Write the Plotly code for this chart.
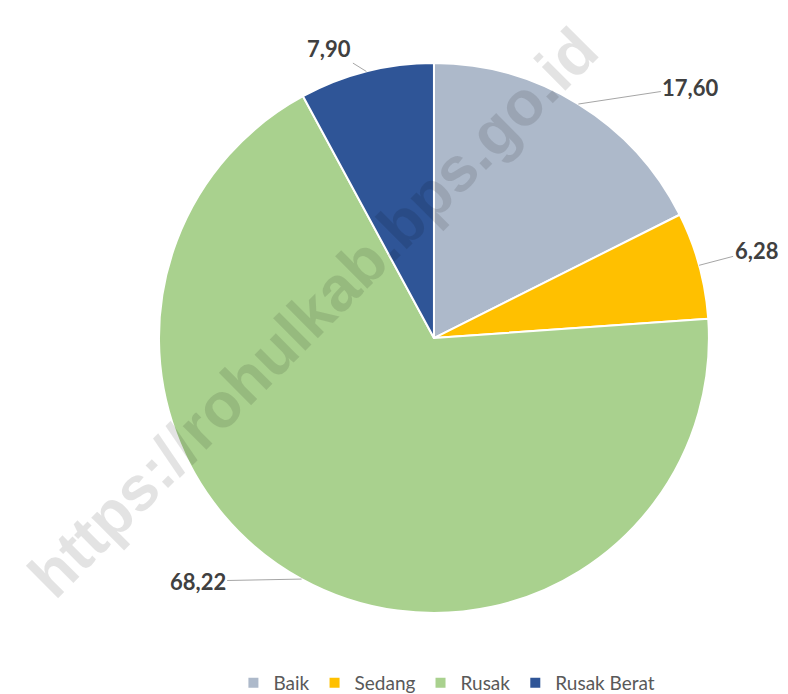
import math
import plotly.graph_objects as go

# ---- data ----
categories = ["Baik", "Sedang", "Rusak", "Rusak Berat"]
values = [17.60, 6.28, 68.22, 7.90]
value_labels = ["17,60", "6,28", "68,22", "7,90"]
colors = ["#ADB9CA", "#FFC000", "#A9D18E", "#2F5597"]

# ---- layout/style ----
W, H = 788, 694
dom_x = [0.2018 - 0.0102, 0.8997 - 0.0102]
dom_y = [0.118 + 0.0101, 0.9107 + 0.0101]
# label text offsets (pixels) from the slice edge anchor
label_offsets = [(112, -17), (57, -15), (-104, 2), (-37, -23)]

fig = go.Figure()
fig.add_trace(go.Pie(
    labels=categories,
    values=values,
    sort=False,
    direction="clockwise",
    rotation=0,
    marker=dict(colors=colors, line=dict(color="white", width=2)),
    textinfo="none",
    hoverinfo="label+value",
    domain=dict(x=dom_x, y=dom_y),
))

# geometry of pie in pixels (computed from domain)
px_w = (dom_x[1] - dom_x[0]) * W
px_h = (dom_y[1] - dom_y[0]) * H
r = min(px_w, px_h) / 2
cx = (dom_x[0] + dom_x[1]) / 2 * W
cy = (dom_y[0] + dom_y[1]) / 2 * H  # from bottom

total = sum(values)
cum = 0
annotations = []
for v, lab, (dx, dy) in zip(values, value_labels, label_offsets):
    mid = (cum + v / 2) / total * 2 * math.pi
    cum += v
    ex = cx + r * math.sin(mid)
    ey = cy + r * math.cos(mid)
    annotations.append(dict(
        x=ex / W, y=ey / H, xref="paper", yref="paper",
        text="<b>" + lab + "</b>", showarrow=True, arrowhead=0, arrowwidth=1,
        arrowcolor="#A6A6A6", ax=dx, ay=dy, axref="pixel", ayref="pixel",
        font=dict(family="Lato", size=22, color="#404040"),
        standoff=0,
    ))

# watermark
annotations.append(dict(
    x=0.387, y=0.562, xref="paper", yref="paper",
    text="<b>https://rohulkab.bps.go.id</b>", showarrow=False,
    textangle=-45,
    font=dict(family="Liberation Sans", size=63, color="rgba(0,0,0,0.11)"),
))

fig.update_layout(
    width=W, height=H,
    margin=dict(l=0, r=0, t=0, b=0),
    paper_bgcolor="white",
    plot_bgcolor="white",
    showlegend=True,
    legend=dict(
        orientation="h", x=0.557, xanchor="center", y=0.0, yanchor="bottom",
        font=dict(family="Lato", size=19, color="#595959"),
        traceorder="normal",
    ),
    annotations=annotations,
)

fig.write_html("out.html")
